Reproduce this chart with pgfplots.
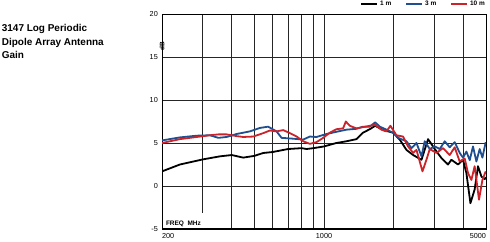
\documentclass[border=0pt]{standalone}
\usepackage{fontspec}
\setmainfont{Liberation Sans}
\usepackage{pgfplots}
\pgfplotsset{compat=1.18}
\definecolor{cblue}{HTML}{1F4F8F}
\definecolor{cred}{HTML}{CC2229}
\begin{document}
\begin{tikzpicture}
\begin{axis}[
  scale only axis, width=324bp, height=215bp,
  clip mode=individual,
  xmode=log, xmin=200, xmax=5000, ymin=-5, ymax=20,
  xtick={200,1000,5000},
  xticklabels={\makebox[0pt][l]{200},1000,\makebox[0pt][r]{5000}},
  minor xtick={300,400,500,600,700,800,900,2000,3000,4000},
  ytick={-5,0,5,10,15,20},
  /pgf/number format/assume math mode=true,
  grid=both,
  major grid style={draw=black!85, line width=0.7bp},
  minor grid style={draw=black!85, line width=0.7bp},
  major tick length=0pt, minor tick length=0pt,
  axis line style={line width=0.7bp},
  xticklabel style={font=\fontsize{7.3}{8}\selectfont, inner sep=0pt, yshift=-4bp},
  yticklabel style={font=\fontsize{7.3}{8}\selectfont, inner sep=0pt, xshift=-4bp},
  legend columns=3,
  legend style={draw=none, fill=none, at={(rel axis cs:1,1)}, anchor=south east,
    yshift=5bp, xshift=1bp, inner sep=0pt,
    font=\bfseries\fontsize{6.5}{7}\selectfont,
    /tikz/every even column/.append style={column sep=12bp}},
  legend image code/.code={\draw[#1] (0bp,0bp) -- (16bp,0bp);},
  every axis plot/.append style={line width=1.8bp, line join=round},
]
\addplot[black] coordinates {
(200,1.7) (239,2.5) (301,3.1) (356,3.45) (400,3.6) (448,3.3) (500,3.5) (547,3.84)
(600,3.95) (700,4.3) (800,4.4) (841,4.3) (900,4.4) (1000,4.6) (1130,5.0) (1250,5.2)
(1380,5.45) (1473,6.2) (1575,6.6) (1663,7.0) (1800,6.5) (1986,6.2) (2122,5.4)
(2268,4.2) (2424,3.6) (2634,3.05) (2812,5.45) (3004,4.3) (3211,3.25) (3428,2.5)
(3545,3.05) (3786,2.5) (3980,3.05) (4115,1.5) (4283,-2.0) (4467,-0.4) (4618,2.3)
(4776,1.1) (4936,0.8) (5000,1.0)
};
\addlegendentry{1 m}
\addplot[cblue] coordinates {
(200,5.3) (239,5.65) (282,5.85) (322,5.9) (350,5.6) (380,5.7) (420,6.05) (479,6.35)
(529,6.75) (574,6.9) (624,6.35) (656,5.6) (736,5.5) (813,5.4) (869,5.75) (928,5.7)
(1026,6.05) (1130,6.3) (1250,6.55) (1380,6.65) (1473,6.9) (1575,6.9) (1663,7.4)
(1742,6.9) (1860,6.55) (1986,6.2) (2088,5.6) (2268,5.2) (2384,4.4) (2506,5.0)
(2634,3.45) (2720,5.2) (2860,4.3) (3004,4.6) (3158,4.3) (3318,5.2) (3486,4.5)
(3664,5.1) (3850,3.85) (3980,3.3) (4115,4.0) (4254,3.0) (4394,4.6) (4545,2.85)
(4696,4.3) (4824,3.3) (4986,5.1)
};
\addlegendentry{3 m}
\addplot[cred] coordinates {
(200,5.0) (239,5.45) (282,5.7) (322,5.9) (350,6.0) (380,6.0) (420,5.8) (448,5.7)
(495,5.75) (547,6.15) (584,6.45) (624,6.35) (667,6.5) (712,6.15) (762,5.75) (813,5.2)
(869,4.9) (928,5.1) (992,5.6) (1060,6.2) (1130,6.6) (1209,6.7) (1242,7.5) (1292,7.0)
(1380,6.7) (1473,6.85) (1575,7.0) (1663,7.1) (1770,6.55) (1860,6.35) (1934,7.0)
(2054,5.9) (2193,5.75) (2305,4.6) (2424,3.85) (2506,4.2) (2660,1.7) (2767,3.05)
(2860,4.3) (3055,3.85) (3264,4.4) (3486,3.6) (3664,4.5) (3850,2.85) (4046,3.2)
(4182,1.5) (4325,0.7) (4467,2.3) (4664,-1.6) (4824,0.7) (4986,1.7)
};
\addlegendentry{10 m}
\draw[line width=2bp] (rel axis cs:0,0) -- (rel axis cs:1,0);
\node[fill=white, anchor=south west, inner xsep=3bp, inner ysep=1bp, text height=11bp,
  font=\bfseries\fontsize{6.5}{7}\selectfont] at (rel axis cs:0,0) [xshift=0.8bp, yshift=1.2bp] {FREQ\ \ MHz};
\node[rotate=90, font=\bfseries\fontsize{6.5}{7}\selectfont, inner sep=0pt] at (rel axis cs:0,0.888) [xshift=-8.5bp] {dB};
\node[anchor=north west, align=left, inner sep=0pt, font=\bfseries\fontsize{10}{13.7}\selectfont]
  at (rel axis cs:0,1) [xshift=-160.3bp, yshift=-10bp] {3147 Log Periodic\\Dipole Array Antenna\\Gain};
\coordinate (SW) at (rel axis cs:0,0);
\end{axis}
\pgfresetboundingbox
\path (SW) ++(-162bp,-13bp) rectangle ++(490bp,242bp);
\end{tikzpicture}
\end{document}
